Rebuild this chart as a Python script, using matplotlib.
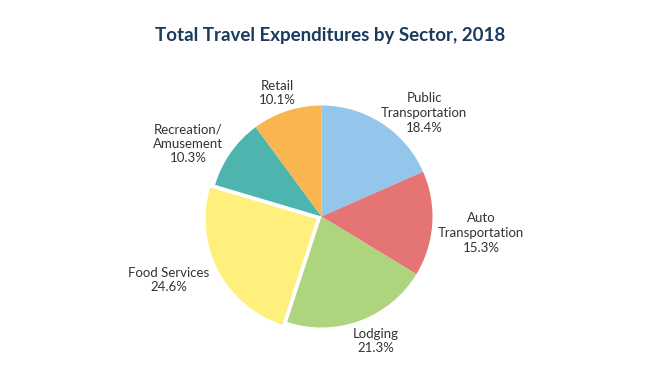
import matplotlib.pyplot as plt

# Data
sectors = ['Public\nTransportation', 'Auto\nTransportation', 'Lodging',
           'Food Services', 'Recreation/\nAmusement', 'Retail']
shares = [18.4, 15.3, 21.3, 24.6, 10.3, 10.1]

# Style
colors = ['#93c6ea', '#e57474', '#aed47e', '#fff07e', '#4db5ad', '#f9b54f']
explode_frac = [0, 0, 0, 0.05, 0, 0]
# label anchor offsets from pie centre, in pixels (x right, y up)
label_offsets = [(102.5, 103.5), (159.5, -16.5), (54.5, -124.5),
                 (-152.5, -63.5), (-133.5, 72.5), (-44.5, 123.5)]

W, H = 660, 375
cx, cy, R = 321.5, 375 - 216.5, 111

plt.rcParams['font.family'] = ['Lato', 'DejaVu Sans']

fig = plt.figure(figsize=(W / 100, H / 100), dpi=100)
ax = fig.add_axes([0, 0, 1, 1])

# explode is in data units (pixels here), so scale by radius
ax.pie(shares, colors=colors, explode=[e * R for e in explode_frac],
       startangle=90, counterclock=False, center=(cx, cy), radius=R, frame=True,
       wedgeprops=dict(linewidth=0))
ax.set_xlim(0, W)
ax.set_ylim(0, H)
ax.set_aspect('equal')
ax.axis('off')

for name, val, (dx, dy) in zip(sectors, shares, label_offsets):
    ax.text(cx + dx, cy + dy, f'{name}\n{val:.1f}%', ha='center', va='center',
            fontsize=9.5, color='#333333', linespacing=1.25)

fig.text(0.5, 1 - 35 / H, 'Total Travel Expenditures by Sector, 2018',
         ha='center', va='center', fontsize=13.5, fontweight='bold', color='#1c3a5e')

fig.savefig('out.png', dpi=100)
